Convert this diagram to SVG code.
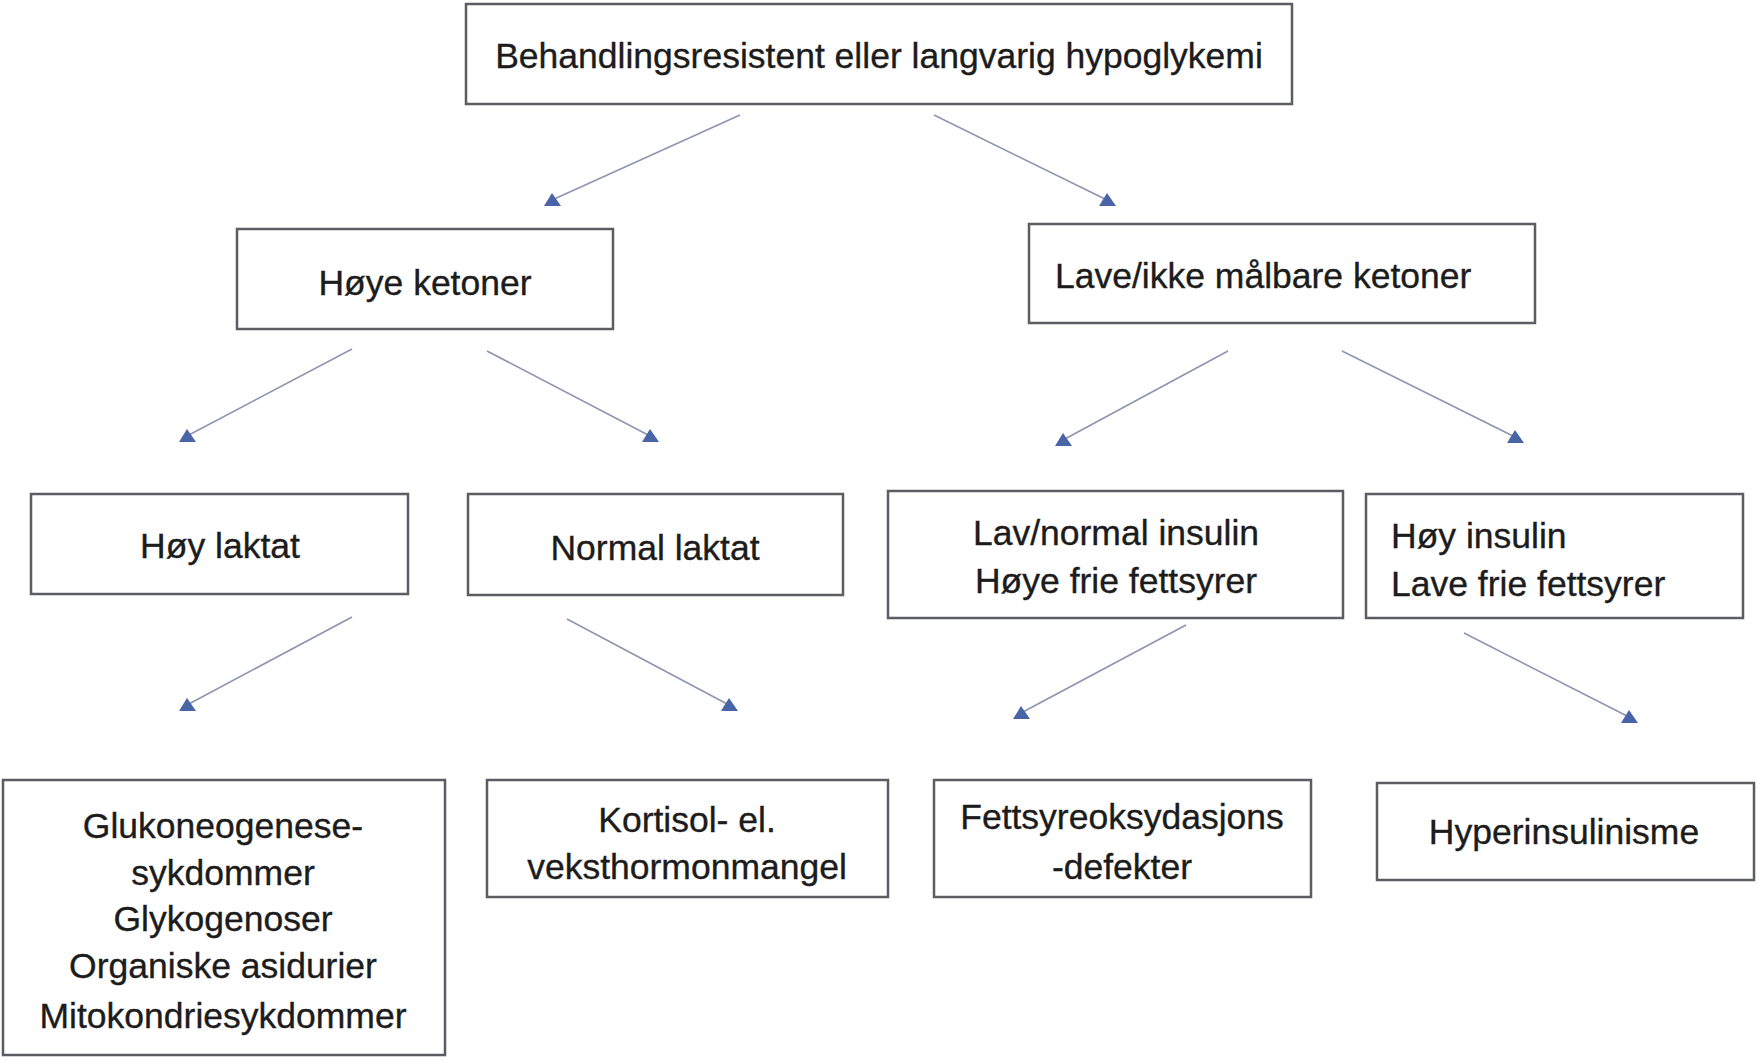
<svg xmlns="http://www.w3.org/2000/svg" width="1758" height="1060" viewBox="0 0 1758 1060">
<style>
.box{fill:#ffffff;stroke:#5b5d63;stroke-width:2.5}
.t{font-family:"Liberation Sans",Arial,sans-serif;font-size:35.5px;fill:#1c1c1c;stroke:#1c1c1c;stroke-width:0.35}
.c{text-anchor:middle}
.ln{stroke:#8e95b0;stroke-width:1.6;fill:none}
.ah{fill:#4a64a8}
</style>
<rect width="1758" height="1060" fill="#ffffff"/>
<g id="connectors">
<line class="ln" x1="740" y1="115" x2="552" y2="200"/>
<polygon class="ah" points="552,193 544,206 561,206"/>
<line class="ln" x1="934" y1="115" x2="1107" y2="200"/>
<polygon class="ah" points="1107,193 1099,206 1116,206"/>
<line class="ln" x1="352" y1="349" x2="187" y2="436"/>
<polygon class="ah" points="187,429 179,442 196,442"/>
<line class="ln" x1="487" y1="351" x2="650" y2="436"/>
<polygon class="ah" points="650,429 642,442 659,442"/>
<line class="ln" x1="1228" y1="351" x2="1063" y2="440"/>
<polygon class="ah" points="1063,433 1055,446 1072,446"/>
<line class="ln" x1="1342" y1="351" x2="1515" y2="437"/>
<polygon class="ah" points="1515,430 1507,443 1524,443"/>
<line class="ln" x1="352" y1="617" x2="187" y2="705"/>
<polygon class="ah" points="187,698 179,711 196,711"/>
<line class="ln" x1="567" y1="619" x2="729" y2="705"/>
<polygon class="ah" points="729,698 721,711 738,711"/>
<line class="ln" x1="1186" y1="625" x2="1021" y2="713"/>
<polygon class="ah" points="1021,706 1013,719 1030,719"/>
<line class="ln" x1="1464" y1="633" x2="1629" y2="717"/>
<polygon class="ah" points="1629,710 1621,723 1638,723"/>
</g>
<g id="n-root">
<rect class="box" x="466" y="4" width="826" height="100"/>
<text class="t c" x="879" y="68">Behandlingsresistent eller langvarig hypoglykemi</text>
</g>
<g id="n-hoye-ketoner">
<rect class="box" x="237" y="229" width="376" height="100"/>
<text class="t c" x="425" y="295">Høye ketoner</text>
</g>
<g id="n-lave-ketoner">
<rect class="box" x="1029" y="224" width="506" height="99"/>
<text class="t" x="1055" y="288">Lave/ikke målbare ketoner</text>
</g>
<g id="n-hoy-laktat">
<rect class="box" x="31" y="494" width="377" height="100"/>
<text class="t c" x="220" y="558">Høy laktat</text>
</g>
<g id="n-normal-laktat">
<rect class="box" x="468" y="494" width="375" height="101"/>
<text class="t c" x="655" y="560">Normal laktat</text>
</g>
<g id="n-lav-insulin">
<rect class="box" x="888" y="491" width="455" height="127"/>
<text class="t c" x="1116" y="545">Lav/normal insulin</text>
<text class="t c" x="1116" y="593">Høye frie fettsyrer</text>
</g>
<g id="n-hoy-insulin">
<rect class="box" x="1366" y="494" width="377" height="124"/>
<text class="t" x="1391" y="548">Høy insulin</text>
<text class="t" x="1391" y="596">Lave frie fettsyrer</text>
</g>
<g id="n-gluko">
<rect class="box" x="3" y="780" width="442" height="275"/>
<text class="t c" x="223" y="838">Glukoneogenese-</text>
<text class="t c" x="223" y="885">sykdommer</text>
<text class="t c" x="223" y="931">Glykogenoser</text>
<text class="t c" x="223" y="978">Organiske asidurier</text>
<text class="t c" x="223" y="1028">Mitokondriesykdommer</text>
</g>
<g id="n-kortisol">
<rect class="box" x="487" y="780" width="401" height="117"/>
<text class="t c" x="687" y="832">Kortisol- el.</text>
<text class="t c" x="687" y="879">veksthormonmangel</text>
</g>
<g id="n-fettsyre">
<rect class="box" x="934" y="780" width="377" height="117"/>
<text class="t c" x="1122" y="829">Fettsyreoksydasjons</text>
<text class="t c" x="1122" y="879">-defekter</text>
</g>
<g id="n-hyperinsulinisme">
<rect class="box" x="1377" y="783" width="377" height="97"/>
<text class="t c" x="1564" y="844">Hyperinsulinisme</text>
</g>
</svg>
